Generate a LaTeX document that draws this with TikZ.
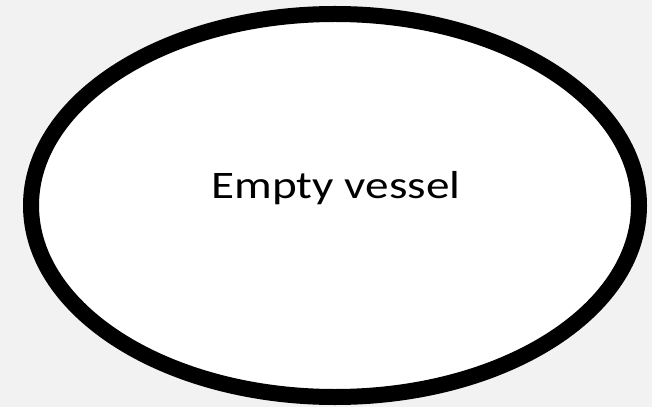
\documentclass[tikz,border=0pt]{standalone}
\usepackage{fontspec}
\setmainfont{Carlito}
\usepackage{xcolor}
\usepackage{tikz}
\usetikzlibrary{calc}
\definecolor{bggray}{HTML}{F2F2F2}
\tikzset{
  vessel/.style={draw=black,line width=16pt,fill=white},
  lbl/.style={font=\fontsize{39}{44}\selectfont,anchor=base,inner sep=0pt,xscale=1.21}
}
\begin{document}
\begin{tikzpicture}[x=1pt,y=1pt]
\fill[bggray] (0,0) rectangle (652,407);
\useasboundingbox (0,0) rectangle (652,407);
\coordinate (C) at (335,201.5);
\draw[vessel] (C) ellipse (304pt and 191.5pt);
\node[lbl] (name) at (336,208) {Empty vessel};
\end{tikzpicture}
\end{document}
